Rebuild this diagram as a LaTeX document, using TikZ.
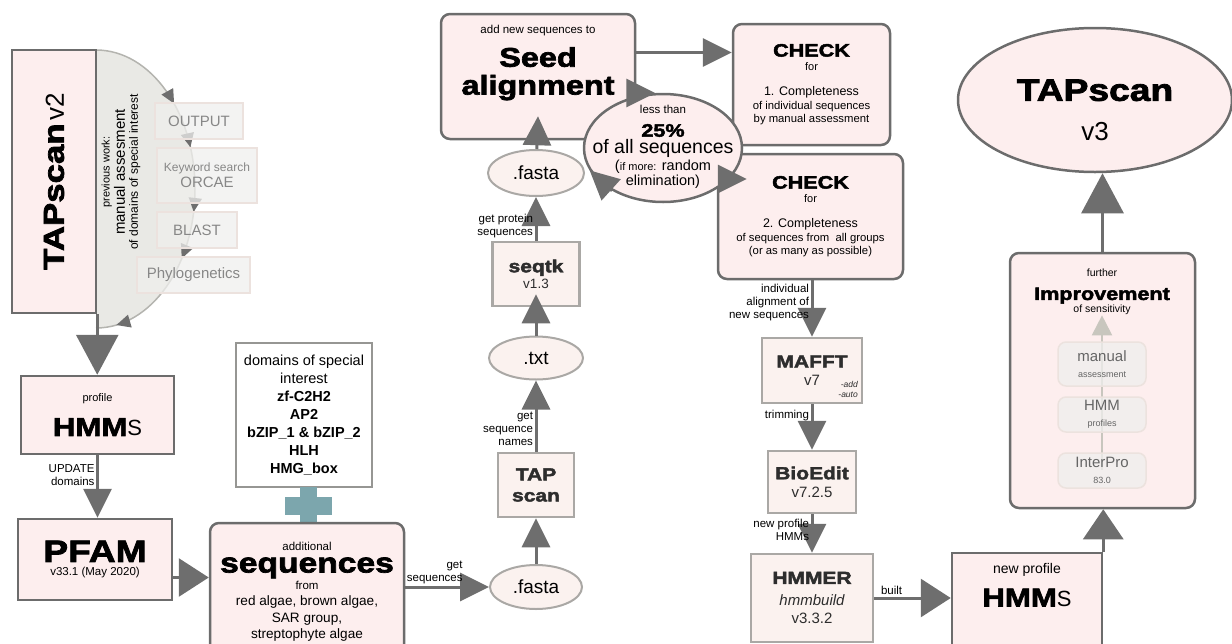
\documentclass[tikz,border=0pt]{standalone}
\usepackage{fontspec}
\setmainfont{Liberation Sans}
\newfontfamily\heavyfont[FakeStretch=1.2,FakeBold=2.5]{Liberation Sans}
\usetikzlibrary{arrows.meta,shapes.geometric,decorations.markings,calc}

\definecolor{boxfill}{RGB}{253,238,238}
\definecolor{boxline}{RGB}{108,108,108}
\definecolor{toolfill}{RGB}{251,242,239}
\definecolor{toolline}{RGB}{170,168,165}
\definecolor{tooltext}{RGB}{45,45,45}
\definecolor{domline}{RGB}{150,150,147}
\definecolor{arrline}{RGB}{110,110,110}
\definecolor{arcfill}{RGB}{233,233,229}
\definecolor{arcline}{RGB}{180,180,175}
\definecolor{ghostfill}{RGB}{239,239,237}
\definecolor{ghostline}{RGB}{236,226,222}
\definecolor{ghosttext}{RGB}{135,135,135}
\definecolor{fadearrow}{RGB}{200,198,190}
\definecolor{plusteal}{RGB}{124,166,173}

\newcommand{\sz}[2]{\fontsize{#1}{#2}\selectfont}
\newcommand{\hv}[1]{{\heavyfont\bfseries #1}}

\begin{document}
\begin{tikzpicture}[x=1pt, y=-1pt]
    \tikzstyle{box} = [rectangle, draw=boxline, line width=2.5pt, fill=boxfill, align=center, inner sep=0pt]
    \tikzstyle{rbox} = [box, rounded corners=9pt]
    \tikzstyle{tool} = [rectangle, draw=toolline, line width=2.5pt, fill=toolfill, text=tooltext, align=center, inner sep=0pt, font=\sz{15}{16}]
    \tikzstyle{datafile} = [ellipse, draw=toolline, line width=2pt, fill=toolfill, inner sep=0pt, font=\sz{19}{20}]
    \tikzstyle{ghost} = [rectangle, draw=ghostline, line width=1.5pt, fill=ghostfill, fill opacity=0.75, text opacity=1, text=ghosttext, align=center, inner sep=0pt, font=\sz{15}{16}]
    \tikzstyle{ghostr} = [ghost, rounded corners=8pt, text=ghosttext!75!black]
    \tikzstyle{arr} = [draw=arrline, line width=3pt, -{Triangle[length=29pt,width=28pt]}]
    \tikzstyle{widearr} = [arr, -{Triangle[length=30pt,width=38pt]}]
    \tikzstyle{bigarr} = [arr, -{Triangle[length=40pt,width=42pt]}]
    \tikzstyle{lbl} = [font=\sz{11.5}{13}, align=right, inner sep=1.5pt]
    \tikzstyle{arctip} = [arrline]

    \useasboundingbox (0,0) rectangle (1232,643);

    % previous work (faded)
    \fill[arcfill] (96,50) arc[start angle=90, end angle=-90, x radius=99pt, y radius=139pt] -- cycle;
    \draw[arcline, line width=1.5pt, postaction={decorate}, decoration={markings,
        mark=at position 0.264 with {\arrow[arctip]{Triangle[length=14pt,width=13pt]}},
        mark=at position 0.388 with {\arrow[arctip]{Triangle[length=14pt,width=13pt]}},
        mark=at position 0.561 with {\arrow[arctip]{Triangle[length=14pt,width=13pt]}},
        mark=at position 0.689 with {\arrow[arctip]{Triangle[length=14pt,width=13pt]}},
        mark=at position 0.945 with {\arrow[arctip]{Triangle[length=14pt,width=13pt]}}}]
        (96,50) arc[start angle=90, end angle=-90, x radius=99pt, y radius=139pt];
    \node [rotate=90, align=center, inner sep=0pt, font=\sz{12}{13}] (prevtxt) at (121,172) {{\sz{11}{12}previous work:}\\[1pt]{\sz{15}{15}manual assesment}\\of domains of special interest};
    \node [ghost, minimum width=88, minimum height=36] (out) at (199,121) {OUTPUT};
    \node [ghost, minimum width=100, minimum height=55] (orc) at (207,175.5) {{\sz{12}{13}Keyword search}\\ORCAE};
    \node [ghost, minimum width=80, minimum height=36] (bla) at (197,230) {BLAST};
    \node [ghost, minimum width=113, minimum height=36] (phy) at (193.5,275) {Phylogenetics};

    % left column
    \node [box, minimum width=84, minimum height=263] (tapv2) at (54,181.5) {\rotatebox{90}{\hv{\sz{29}{29}TAPscan} \sz{26}{26}v2}};
    \node [box, minimum width=153, minimum height=78] (hmm) at (97.5,415) {{\sz{11}{12}profile}\\[13pt]\hv{\sz{26}{26}HMM}{\sz{22}{22}S}};
    \node [box, minimum width=154, minimum height=81] (pfam) at (95,559.5) {\hv{\sz{31}{31}PFAM}\\[2pt]{\sz{11.5}{12}v33.1 (May 2020)}};
    \node [rectangle, draw=domline, line width=2.5pt, fill=white, align=center, inner sep=0pt, minimum width=136, minimum height=144, font=\sz{14.5}{18}] (dom) at (304,415) {domains of special\\interest\\\textbf{zf-C2H2}\\\textbf{AP2}\\\textbf{bZIP\_1 \& bZIP\_2}\\\textbf{HLH}\\\textbf{HMG\_box}};
    \fill[plusteal] (300,487) rectangle (317,523);
    \fill[plusteal] (285,497) rectangle (332,515);
    \node [rbox, minimum width=194, minimum height=137, font=\sz{13.6}{16.5}] (seq) at (307,591.5) {{\sz{11.5}{12}additional}\\[6pt]\hv{\sz{28}{26}sequences}\\{\sz{11.5}{12}from}\\red algae, brown algae,\\SAR group,\\streptophyte algae};

    % middle column
    \node [datafile, minimum width=92, minimum height=44] (fastab) at (536,587) {.fasta};
    \node [tool, minimum width=76, minimum height=64, font=\sz{17.5}{21}] (tapsc) at (536,485) {\hv{TAP}\\\hv{scan}};
    \node [datafile, minimum width=94, minimum height=43] (txt) at (536,358) {.txt};
    \node [tool, minimum width=87, minimum height=64] (seqtk) at (536,274) {\hv{\sz{17.5}{19}seqtk}\\{\sz{13.5}{14}v1.3}};
    \node [datafile, minimum width=96, minimum height=46] (fastat) at (536,173) {.fasta};
    \node [rbox, minimum width=194, minimum height=125, font=\sz{11.5}{12}] (seed) at (538,76.5) {add new sequences to\\[10pt]\hv{\sz{27}{27}Seed}\\[7pt]\hv{\sz{27}{27}alignment}\\[21pt]\mbox{}};

    % checks
    \node [rbox, minimum width=157, minimum height=121, font=\sz{11.3}{13.5}] (check1) at (811.5,84.5) {\hv{\sz{18}{18}CHECK}\\{\sz{11}{12}for}\\[12pt]{\sz{12.5}{14}1. Completeness}\\of individual sequences\\by manual assessment};
    \node [rbox, minimum width=185, minimum height=125, font=\sz{11.3}{13.5}] (check2) at (810.5,216.5) {\hv{\sz{18}{18}CHECK}\\{\sz{11}{12}for}\\[12pt]{\sz{12.5}{14}2. Completeness}\\of sequences from\ \ all groups\\(or as many as possible)};
    \node [ellipse, draw=boxline, line width=2.5pt, fill=boxfill, minimum width=158, minimum height=108, inner sep=0pt] (pct) at (663,148) {};
    \node [align=center, inner sep=0pt, font=\sz{14.5}{15}] (pcttxt) at (663,147) {{\sz{11.5}{12}less than}\\[8pt]\hv{\sz{18}{18}25\%}\\[2pt]{\sz{19.5}{20}of all sequences}\\[2pt]({\sz{11}{12}if more:} random\\elimination)};

    % right column
    \node [tool, minimum width=100, minimum height=65] (mafft) at (812,370.5) {\hv{\sz{17.5}{19}MAFFT}\\[2pt]v7};
    \node [anchor=east, align=right, inner sep=0pt, text=tooltext, font=\sz{8.5}{10}\itshape] (mopt) at (858,389) {-add\\-auto};
    \node [tool, minimum width=88, minimum height=62] (bioedit) at (812,482) {\hv{\sz{17.5}{19}BioEdit}\\[2pt]v7.2.5};
    \node [tool, minimum width=122, minimum height=88] (hmmer) at (812,598) {\hv{\sz{17.5}{19}HMMER}\\[6pt]{\itshape hmmbuild}\\[2pt]v3.3.2};
    \node [box, minimum width=150, minimum height=95, font=\sz{14}{15}] (newhmm) at (1027,600.5) {new profile\\[11pt]\hv{\sz{26}{26}HMM}{\sz{22}{22}S}\\[16pt]\mbox{}};
    \node [rbox, minimum width=185, minimum height=255] (impr) at (1102.5,380.5) {};
    \node [align=center, inner sep=0pt, font=\sz{10.5}{12}] (imptxt) at (1102,292) {further\\[10pt]\hv{\sz{18}{16}Improvement}\\[1pt]of sensitivity};
    \draw [draw=fadearrow, line width=2pt, -{Triangle[length=20pt,width=20pt]}] (1102,470) -- (imptxt.south);
    \node [ghostr, minimum width=88, minimum height=44] (man) at (1102,364) {manual\\{\sz{9}{10}assessment}};
    \node [ghostr, minimum width=88, minimum height=35] (hmmp) at (1102,414.5) {HMM\\{\sz{9}{10}profiles}};
    \node [ghostr, minimum width=88, minimum height=35] (ipro) at (1102,470.5) {InterPro\\{\sz{9}{10}83.0}};
    \node [ellipse, draw=boxline, line width=2.5pt, fill=boxfill, minimum width=274, minimum height=144, inner sep=0pt, align=center, font=\sz{10}{12}] (v3) at (1095,100) {\mbox{}\\[19pt]\hv{\sz{31}{31}TAPscan}\\[20pt]{\sz{26}{26}v3}};

    % connectors
    \draw [bigarr] (tapv2.south east) -- (tapv2.south east |- hmm.north);
    \draw [arr] (hmm.south) -- node [lbl, left, pos=0.31] {UPDATE\\domains} (hmm.south |- pfam.north);
    \draw [widearr] ([yshift=-18pt]pfam.east) -- ([yshift=-18pt]pfam.east -| seq.west);
    \draw [arr] (seq.east |- fastab) -- node [lbl, anchor=south east, pos=0.72] {get\\sequences} (fastab);
    \draw [arr] (fastab) -- (tapsc);
    \draw [arr] (tapsc) -- node [lbl, left, pos=0.32] {get\\sequence\\names} (txt);
    \draw [arr] (txt) -- ([yshift=13pt]seqtk.south);
    \draw [arr] (seqtk) -- node [lbl, left, pos=0.33] {get protein\\sequences} (fastat);
    \draw [arr] (fastat) -- ([yshift=24pt]seed.south);
    \draw [arr] ([yshift=24pt]seed.east) -- ([yshift=24pt]seed.east -| check1.west);
    \draw [arr] (seed.east |- pct.98) -- (pct.98);
    \draw [arr] (pct.-25) -- ($(check2.west |- pct.-25)+(30,0)$);
    \draw [arr] (pct.220) -- (pct.197);
    \draw [arr] (mafft.north |- check2.south) -- node [lbl, left, pos=0.39] {individual\\alignment of\\new sequences} (mafft.north);
    \draw [arr] (mafft) -- node [lbl, left, pos=0.25] {trimming} (bioedit);
    \draw [arr] (bioedit) -- node [lbl, left, pos=0.41] {new profile\\HMMs} (hmmer);
    \draw [widearr] (hmmer.east) -- node [lbl, anchor=south west, pos=0.05] {built} (hmmer.east -| newhmm.west);
    \draw [arr, -{Triangle[length=30pt,width=40pt]}] (newhmm.north east) -- (newhmm.north east |- impr.south);
    \draw [bigarr] (impr.north) -- (impr.north |- v3.south);
\end{tikzpicture}
\end{document}
